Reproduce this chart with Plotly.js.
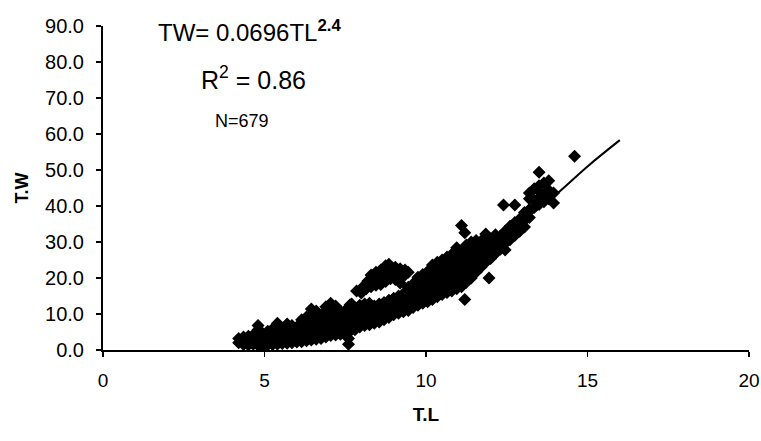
<!DOCTYPE html>
<html>
<head>
<meta charset="utf-8">
<script src="https://cdn.plot.ly/plotly-3.0.1.min.js"></script>
<style>html,body{margin:0;padding:0;background:#fff}#chart{width:761px;height:441px}</style>
</head>
<body>
<div id="chart"></div>
<script>
const tlMain = [
 4.2,4.2,
 4.35,4.35,4.35,
 4.5,4.5,4.5,
 4.65,4.65,4.65,
 4.8,4.8,4.8,4.8,4.8,
 4.95,4.95,4.95,4.95,
 5.1,5.1,5.1,5.1,
 5.25,5.25,5.25,5.25,
 5.4,5.4,5.4,5.4,5.4,
 5.55,5.55,5.55,5.55,
 5.7,5.7,5.7,5.7,5.7,
 5.85,5.85,5.85,5.85,
 6.0,6.0,6.0,6.0,
 6.15,6.15,6.15,6.15,6.15,
 6.3,6.3,6.3,6.3,6.3,
 6.45,6.45,6.45,6.45,6.45,6.45,
 6.6,6.6,6.6,6.6,6.6,6.6,
 6.75,6.75,6.75,6.75,6.75,
 6.9,6.9,6.9,6.9,6.9,6.9,
 7.05,7.05,7.05,7.05,7.05,7.05,
 7.2,7.2,7.2,7.2,7.2,7.2,
 7.35,7.35,7.35,7.35,7.35,
 7.5,7.5,7.5,7.5,7.5,
 7.6,7.6,
 7.65,7.65,7.65,7.65,7.65,
 7.8,7.8,7.8,7.8,
 7.95,7.95,7.95,7.95,7.95,
 8.1,8.1,8.1,8.1,8.1,
 8.25,8.25,8.25,8.25,8.25,
 8.4,8.4,8.4,8.4,
 8.55,8.55,8.55,8.55,
 8.7,8.7,8.7,8.7,
 8.85,8.85,8.85,8.85,
 9.0,9.0,9.0,9.0,
 9.15,9.15,9.15,9.15,
 9.3,9.3,9.3,9.3,
 9.45,9.45,9.45,9.45,9.45,
 9.6,9.6,9.6,9.6,9.6,
 9.75,9.75,9.75,9.75,9.75,9.75,
 9.9,9.9,9.9,9.9,9.9,9.9,
 10.05,10.05,10.05,10.05,10.05,10.05,
 10.2,10.2,10.2,10.2,10.2,10.2,10.2,
 10.35,10.35,10.35,10.35,10.35,10.35,10.35,
 10.5,10.5,10.5,10.5,10.5,10.5,10.5,
 10.65,10.65,10.65,10.65,10.65,10.65,10.65,
 10.8,10.8,10.8,10.8,10.8,10.8,10.8,
 10.95,10.95,10.95,10.95,10.95,10.95,10.95,10.95,
 11.1,11.1,11.1,11.1,11.1,11.1,11.1,
 11.25,11.25,11.25,11.25,11.25,11.25,11.25,
 11.4,11.4,11.4,11.4,11.4,11.4,11.4,
 11.55,11.55,11.55,11.55,11.55,11.55,
 11.7,11.7,11.7,11.7,11.7,
 11.85,11.85,11.85,11.85,11.85,
 12.0,12.0,12.0,12.0,
 12.15,12.15,12.15,12.15,
 12.3,12.3,12.3,
 12.45,12.45,12.45,12.45,
 12.6,12.6,12.6,
 12.75,12.75,12.75,
 12.9,12.9,12.9,
 13.05,13.05,13.05,
 13.2,13.2,13.2,13.2,
 13.35,13.35,13.35,
 13.5,13.5,13.5,13.5,
 13.65,13.65,13.65,
 13.8,13.8,13.8,
 13.95,13.95
];
const twMain = [
 2.0,3.2,
 1.5,2.6,3.6,
 1.4,2.5,3.8,
 1.6,2.8,4.2,
 1.3,2.5,4.0,5.6,6.8,
 0.4,1.8,3.0,4.6,
 1.4,2.6,4.0,5.2,
 1.5,2.9,4.4,5.8,
 1.6,3.0,4.6,6.2,7.4,
 1.8,3.2,4.8,6.0,
 1.9,3.4,5.0,6.6,7.2,
 2.0,3.5,5.2,6.8,
 2.2,3.6,5.0,6.4,
 2.3,3.8,5.4,7.0,8.4,
 2.6,4.0,5.6,7.4,9.2,
 2.8,4.4,6.0,7.8,9.8,11.4,
 3.0,4.6,6.2,8.0,9.6,10.8,
 3.2,4.8,6.6,8.4,9.8,
 3.6,5.2,7.0,8.8,10.6,12.0,
 4.0,5.6,7.4,9.2,11.0,13.0,
 4.2,5.8,7.6,9.4,11.2,12.2,
 4.4,6.0,7.8,9.6,10.8,
 4.8,6.4,8.2,9.8,11.0,
 1.6,3.2,
 5.2,6.8,8.6,10.2,12.6,
 5.6,7.2,9.0,10.6,
 6.4,8.0,9.6,11.2,12.4,
 6.8,8.4,10.0,11.6,12.8,
 7.0,8.8,10.4,12.0,13.0,
 7.4,9.0,10.6,12.2,
 7.8,9.4,11.0,12.8,
 8.4,10.0,11.6,13.2,
 9.0,10.6,12.2,13.8,
 9.8,11.4,13.0,14.4,
 10.2,11.8,13.4,15.0,
 10.6,12.2,13.8,15.6,
 11.0,12.6,14.2,15.8,17.4,
 11.8,13.4,15.0,16.6,18.4,
 12.4,14.0,15.6,17.2,19.0,20.2,
 13.0,14.6,16.2,17.8,19.4,21.0,
 13.4,15.0,16.8,18.4,20.0,21.8,
 14.0,15.6,17.4,19.0,20.6,22.4,23.6,
 14.8,16.4,18.0,19.6,21.2,23.0,24.4,
 15.4,17.0,18.6,20.2,21.8,23.6,25.0,
 16.0,17.6,19.2,20.8,22.4,24.2,25.8,
 16.4,18.0,19.6,21.2,22.8,24.6,26.6,
 17.0,18.6,20.2,21.8,23.4,25.2,27.4,28.4,
 17.6,19.2,20.8,22.4,24.0,25.8,27.6,
 18.8,20.4,22.0,23.6,25.4,27.2,29.2,
 20.0,21.6,23.2,25.0,26.8,28.6,30.0,
 21.6,23.2,25.0,26.8,28.6,30.4,
 23.0,24.8,26.6,28.4,30.2,
 24.4,26.2,28.0,30.0,32.2,
 25.4,27.2,29.0,30.8,
 26.8,28.6,30.4,32.0,
 28.0,29.8,31.6,
 27.8,29.6,31.4,33.0,
 30.6,32.4,34.4,
 31.8,33.6,35.4,
 33.0,34.8,36.4,
 34.2,36.0,38.2,
 36.8,39.0,42.0,43.6,
 39.6,41.6,44.8,
 40.4,42.2,44.0,45.6,
 41.2,43.0,46.4,
 42.0,44.4,47.0,
 40.8,43.6
];
// Upper branch around T.L 8-9.5
const tlUpper = [7.85,8.0,8.05,8.15,8.2,8.3,8.35,8.3,8.45,8.5,8.45,8.6,8.65,8.6,8.75,8.8,8.75,8.9,8.95,8.85,9.05,9.1,9.05,9.2,9.25,9.2,9.35,9.35,9.45];
const twUpper = [16.4,15.8,17.6,17.0,19.2,17.6,19.4,20.8,18.0,19.8,21.6,18.2,20.4,22.2,19.0,21.2,23.4,19.8,21.6,23.8,19.6,21.0,23.0,18.6,20.4,22.6,20.8,22.2,21.6];
// Isolated points
const tlOut = [7.7,11.1,11.2,11.2,11.95,12.4,12.75,13.5,14.6];
const twOut = [12.8,34.6,32.6,14.0,20.0,40.3,40.3,49.4,53.8];
// Fitted power curve as drawn
const tlFit = [4.3,5,6,7,8,9,10,11,12,13,14,15,16];
const twFit = [2.4,3.6,5.6,8.1,11.1,14.7,19.0,24.0,29.5,36.0,43.0,51.0,58.3];

const xTicks = [0,5,10,15,20];
const yTicks = [0,10,20,30,40,50,60,70,80,90];

const FONT = '"Liberation Sans", Arial, sans-serif';
const mk = {symbol:'diamond', size:10, color:'#000', line:{width:0}};

const data = [
  {x: tlMain, y: twMain, mode:'markers', type:'scatter', marker: mk, name:'obs'},
  {x: tlUpper, y: twUpper, mode:'markers', type:'scatter', marker: mk, name:'obs2'},
  {x: tlOut, y: twOut, mode:'markers', type:'scatter', marker: mk, name:'obs3'},
  {x: tlFit, y: twFit, mode:'lines', type:'scatter', line:{color:'#000', width:2, shape:'spline'}, name:'fit'}
];

const layout = {
  width: 761, height: 441,
  margin: {l:103, r:12, t:26, b:91},
  paper_bgcolor:'#fff', plot_bgcolor:'#fff',
  showlegend:false,
  font: {family: FONT, color:'#000'},
  xaxis: {
    range:[0,20], tickvals: xTicks, ticktext: xTicks.map(String),
    showgrid:false, zeroline:false, showline:true, linecolor:'#000', linewidth:2,
    ticks:'outside', ticklen:5, tickwidth:1.5, tickcolor:'#000',
    tickfont:{size:19, family:FONT}, ticklabelstandoff:7,
    title:{text:'<b>T.L</b>', font:{size:19, family:FONT}, standoff:18}
  },
  yaxis: {
    range:[0,90], tickvals: yTicks, ticktext: yTicks.map(v=>v.toFixed(1)),
    showgrid:false, zeroline:false, showline:true, linecolor:'#000', linewidth:2,
    ticks:'outside', ticklen:5, tickwidth:1.5, tickcolor:'#000',
    tickfont:{size:20, family:FONT}, ticklabelstandoff:8,
    title:{text:'<b>T.W</b>', font:{size:18, family:FONT}, standoff:12}
  },
  annotations: [
    {x:4.55, y:88.5, xref:'x', yref:'y', text:'TW= 0.0696TL<sup><b>2.4</b></sup>', showarrow:false, font:{size:24, family:FONT}, xanchor:'center', yanchor:'middle'},
    {x:4.67, y:75.5, xref:'x', yref:'y', text:'R<sup>2</sup> = 0.86', showarrow:false, font:{size:25, family:FONT}, xanchor:'center', yanchor:'middle'},
    {x:4.3, y:63.5, xref:'x', yref:'y', text:'N=679', showarrow:false, font:{size:18, family:FONT}, xanchor:'center', yanchor:'middle'}
  ]
};

Plotly.newPlot('chart', data, layout, {displayModeBar:false, staticPlot:true});
</script>
</body>
</html>
